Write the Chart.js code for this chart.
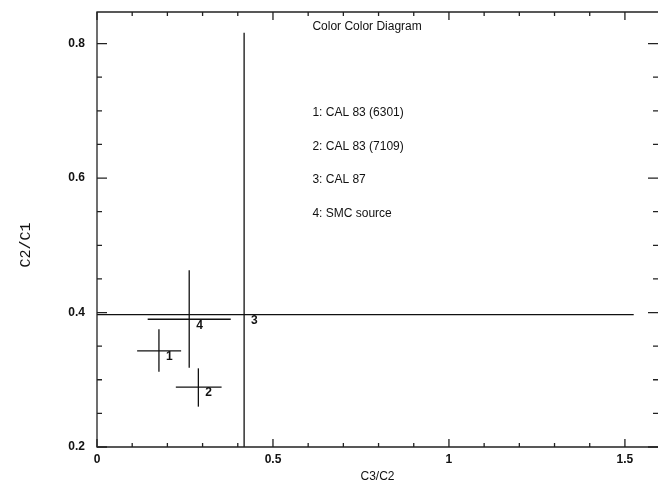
<!DOCTYPE html>
<html>
<head>
<meta charset="utf-8">
<script src="https://cdn.jsdelivr.net/npm/chart.js@4.4.1/dist/chart.umd.min.js"></script>
<style>
	html, body { margin: 0; padding: 0; background: #ffffff; }
	#wrap { width: 658px; height: 482px; }
</style>
</head>
<body>
<div id="wrap"><canvas id="ccd"></canvas></div>
<script>
//	Color-color diagram data
var sourceIds = ['1', '2', '3', '4'];
var sourceNames = ['CAL 83 (6301)', 'CAL 83 (7109)', 'CAL 87', 'SMC source'];
var c3c2 = [0.176, 0.288, 0.418, 0.262];		// x centre
var c3c2Low = [0.114, 0.224, -0.69, 0.144];
var c3c2High = [0.239, 0.354, 1.525, 0.380];
var c2c1 = [0.343, 0.289, 0.397, 0.390];		// y centre
var c2c1Low = [0.312, 0.260, -0.02, 0.318];
var c2c1High = [0.375, 0.317, 0.816, 0.463];

var xMajor = ['0', '0.5', '1', '1.5'];
var yMajor = ['0.2', '0.4', '0.6', '0.8'];

let fontFamily = "'Liberation Sans', Arial, sans-serif";
let ink = '#111111';

// where the annotation text sits (data units)
let noteLeft = 0.612;
let noteTop = 0.825;
let keyRows = [0.697, 0.647, 0.597, 0.547];

//	build one horizontal + one vertical segment per source
var datasets = [];
for (var i = 0; i < sourceIds.length; i++) {
	datasets.push({
		label: sourceIds[i] + ' x',
		data: [{ x: c3c2Low[i], y: c2c1[i] }, { x: c3c2High[i], y: c2c1[i] }],
		showLine: true, borderColor: ink, borderWidth: 1.3, pointRadius: 0
	});
	datasets.push({
		label: sourceIds[i] + ' y',
		data: [{ x: c3c2[i], y: c2c1Low[i] }, { x: c3c2[i], y: c2c1High[i] }],
		showLine: true, borderColor: ink, borderWidth: 1.3, pointRadius: 0
	});
}

var isMultiple = function (v, step) {
	var r = v / step;
	return Math.abs(r - Math.round(r)) < 1e-6;
};

// frame, inward ticks, labels and key
var decorations = {
	id: 'decorations',
	afterDraw: function (chart) {
		var ctx = chart.ctx;
		var a = chart.chartArea;
		var xs = chart.scales.x, ys = chart.scales.y;
		ctx.save();
		ctx.strokeStyle = '#222222';
		ctx.lineWidth = 1.3;
		// right edge of the frame falls off the page in the scan
		ctx.beginPath();
		ctx.moveTo(a.right, a.top);
		ctx.lineTo(a.left, a.top);
		ctx.lineTo(a.left, a.bottom);
		ctx.lineTo(a.right, a.bottom);
		ctx.stroke();

		ctx.beginPath();
		xs.ticks.forEach(function (t) {
			var px = xs.getPixelForValue(t.value);
			var len = t.label !== '' ? 8 : 4;
			ctx.moveTo(px, a.bottom); ctx.lineTo(px, a.bottom - len);
			ctx.moveTo(px, a.top); ctx.lineTo(px, a.top + len);
		});
		ys.ticks.forEach(function (t) {
			var py = ys.getPixelForValue(t.value);
			var len = t.label !== '' ? 10 : 5;
			ctx.moveTo(a.left, py); ctx.lineTo(a.left + len, py);
			ctx.moveTo(a.right, py); ctx.lineTo(a.right - len, py);
		});
		ctx.stroke();

		// source numbers next to each cross
		ctx.fillStyle = ink;
		ctx.font = 'bold 12px ' + fontFamily;
		ctx.textAlign = 'left';
		ctx.textBaseline = 'middle';
		for (var i = 0; i < sourceIds.length; i++) {
			ctx.fillText(sourceIds[i], xs.getPixelForValue(c3c2[i]) + 7, ys.getPixelForValue(c2c1[i]) + 6);
		}

		// title and key
		ctx.font = '12px ' + fontFamily;
		ctx.fillText('Color Color Diagram', xs.getPixelForValue(noteLeft), ys.getPixelForValue(noteTop));
		for (var k = 0; k < sourceIds.length; k++) {
			ctx.fillText(sourceIds[k] + ': ' + sourceNames[k], xs.getPixelForValue(noteLeft), ys.getPixelForValue(keyRows[k]));
		}

		// y axis title
		ctx.translate(26, 245);
		ctx.rotate(-Math.PI / 2);
		ctx.textAlign = 'center';
		ctx.font = "15px 'Liberation Mono', 'DejaVu Sans Mono', monospace";
		ctx.fillText('C2/C1', 0, 0);
		ctx.restore();
	}
};

var graphSettings = {
	type: 'scatter',
	data: { datasets: datasets },
	plugins: [decorations],
	options: {
		animation: false,
		responsive: true,
		maintainAspectRatio: false,
		layout: { padding: { top: 12, right: 0, bottom: 0, left: 0 } },
		plugins: { legend: { display: false }, tooltip: { enabled: false } },
		scales: {
			x: {
				type: 'linear',
				min: 0,
				max: 1.594,
				grid: { display: false, drawTicks: false },
				border: { display: false },
				ticks: {
					stepSize: 0.1,
					autoSkip: false,
					includeBounds: false,
					maxRotation: 0,
					padding: 5,
					color: ink,
					font: { family: fontFamily, size: 12, weight: 'bold' },
					callback: function (v) {
						if (!isMultiple(v, 0.5)) return '';
						return xMajor[Math.round(v / 0.5)];
					}
				},
				title: {
					display: true,
					text: 'C3/C2',
					color: ink,
					font: { family: fontFamily, size: 12 },
					padding: { top: 0, bottom: -2 }
				},
				afterFit: function (s) { s.height = 35; s.paddingLeft = 0; s.paddingRight = 0; }
			},
			y: {
				type: 'linear',
				min: 0.2,
				max: 0.847,
				grid: { display: false, drawTicks: false },
				border: { display: false },
				ticks: {
					stepSize: 0.05,
					autoSkip: false,
					includeBounds: false,
					padding: 12,
					color: ink,
					font: { family: fontFamily, size: 12, weight: 'bold' },
					callback: function (v) {
						if (!isMultiple(v, 0.2)) return '';
						return yMajor[Math.round(v / 0.2) - 1];
					}
				},
				afterFit: function (s) { s.width = 97; s.paddingTop = 0; s.paddingBottom = 0; }
			}
		}
	}
};

var theGraph = new Chart(document.getElementById('ccd'), graphSettings);
</script>
</body>
</html>
